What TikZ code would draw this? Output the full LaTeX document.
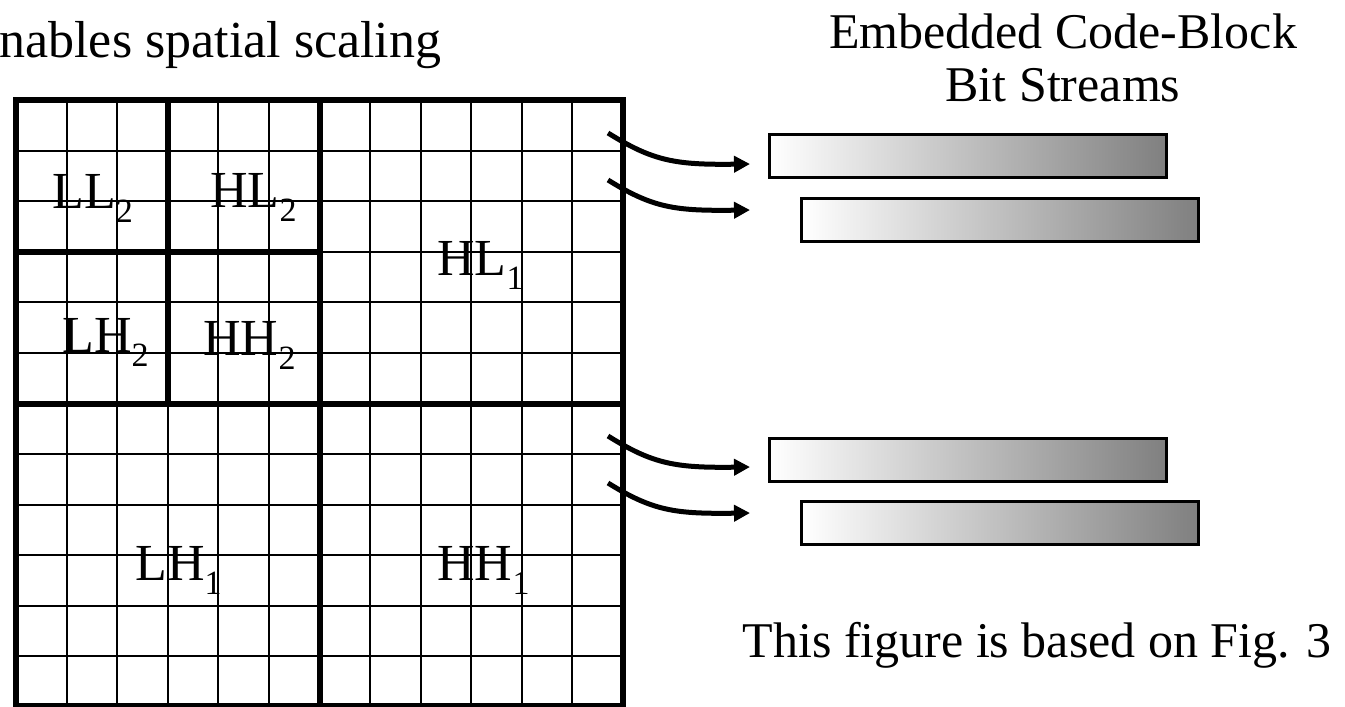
\documentclass[tikz,border=0pt]{standalone}
\usepackage{fontspec}
\setmainfont{Liberation Serif}
\usepackage{tikz}
\usetikzlibrary{shapes}
\usetikzlibrary{positioning}
\usetikzlibrary{arrows.meta}

\newcommand{\bandidx}[1]{\raisebox{-7pt}{\fontsize{17}{17}\selectfont #1}}
\tikzset{
  cellline/.style={line width=1pt},
  bandline/.style={line width=3pt},
  band/.style={anchor=base west,inner sep=0pt,font=\fontsize{26}{26}\selectfont},
  txt/.style={inner sep=0pt,font=\fontsize{25}{30}\selectfont},
  stream/.style={draw,line width=1.5pt,left color=white,right color=black!50,
    minimum width=198.5pt,minimum height=21.5pt,inner sep=0pt},
  feed/.style={line width=2.5pt,-{Triangle[length=8pt,width=8pt]}}
}

\begin{document}
\begin{tikzpicture}[x=0.5pt,y=-0.5pt]
\useasboundingbox (0,0) rectangle (1345,707);
% code-block grid
\foreach \i in {0,...,12}{
  \draw[cellline] (16+50.58*\i,100) -- (16+50.58*\i,706);
  \draw[cellline] (16,100+50.58*\i) -- (623,100+50.58*\i);
}
\draw[bandline] (16,100) rectangle (623,706);
\draw[bandline] (319.5,100) -- (319.5,706);
\draw[bandline] (16,403.5) -- (623,403.5);
\draw[bandline] (167.7,100) -- (167.7,403.5);
\draw[bandline] (16,251.7) -- (319.5,251.7);

% subbands
\node[band] (ll2) at (52,208) {LL\bandidx{2}};
\node[band] (hl2) at (210,207) {HL\bandidx{2}};
\node[band] (lh2) at (62,352) {LH\bandidx{2}};
\node[band] (hh2) at (203,355) {HH\bandidx{2}};
\node[band] (hl1) at (437,275) {HL\bandidx{1}};
\node[band] (lh1) at (135,580) {LH\bandidx{1}};
\node[band] (hh1) at (437,580) {HH\bandidx{1}};

% bit streams
\node[stream] (bs1) at (968,156) {};
\node[stream] (bs2) at (1000,219.5) {};
\node[stream] (bs3) at (968,459.5) {};
\node[stream] (bs4) at (1000,523) {};

\coordinate (a1) at (608,133);
\coordinate (a2) at (608,180);
\coordinate (a3) at (608,436);
\coordinate (a4) at (608,483);
\coordinate (t1) at (750,164);
\coordinate (t2) at (750,210);
\coordinate (t3) at (750,467);
\coordinate (t4) at (750,513);
\foreach \k in {1,...,4}
  \draw[feed] (a\k) .. controls +(45,28) and +(-75,1) .. (t\k);

% texts
\node[txt,anchor=base west,font=\fontsize{26}{30}\selectfont] (scal) at (-1,57) {nables spatial scaling};
\node[txt,anchor=base] (ttl1) at (1063,48) {Embedded Code-Block};
\node[txt,anchor=base] (ttl2) at ([yshift=-26.5pt]ttl1.base) {Bit Streams};
\node[txt,anchor=base east] (note) at (1332,657) {This figure is based on Fig. 3};
\end{tikzpicture}
\end{document}
